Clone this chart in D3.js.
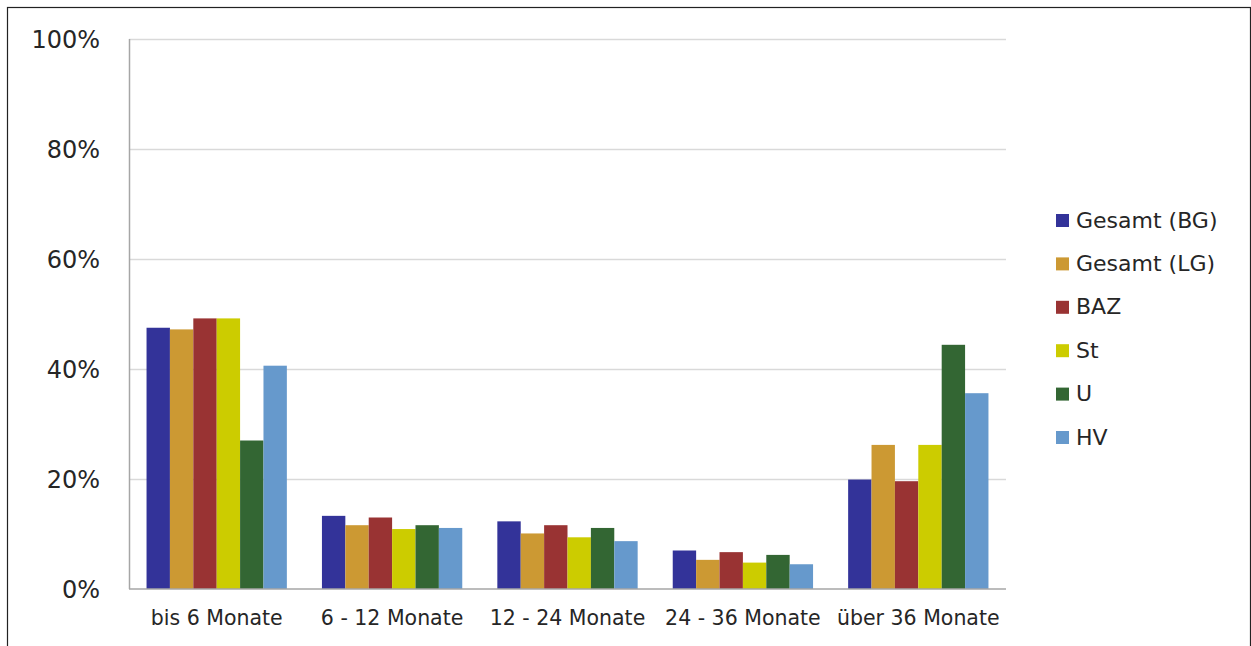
<!DOCTYPE html>
<html>
<head>
<meta charset="utf-8">
<script src="https://cdn.jsdelivr.net/npm/d3@7"></script>
<style>
  body { margin: 0; background: #fff; }
  text { font-family: "DejaVu Sans", Verdana, sans-serif; fill: #262626; }
</style>
</head>
<body>
<div id="chart"></div>
<script>
// categories and series
const categories = ["bis 6 Monate", "6 - 12 Monate", "12 - 24 Monate", "24 - 36 Monate", "über 36 Monate"];
const seriesNames = ["Gesamt (BG)", "Gesamt (LG)", "BAZ", "St", "U", "HV"];
const seriesColors = ["#333399", "#cc9933", "#993333", "#cccc00", "#336633", "#6699cc"];

// values in percent, one array per series
const gesamtBG = [47.5, 13.3, 12.3, 7.0, 19.9];
const gesamtLG = [47.2, 11.6, 10.1, 5.3, 26.2];
const baz      = [49.2, 13.0, 11.6, 6.7, 19.6];
const st       = [49.2, 10.9, 9.4, 4.8, 26.2];
const u        = [27.0, 11.6, 11.1, 6.2, 44.4];
const hv       = [40.6, 11.1, 8.7, 4.5, 35.6];
const seriesValues = [gesamtBG, gesamtLG, baz, st, u, hv];

const yTicks = [0, 20, 40, 60, 80, 100];

const width = 1251, height = 646;
const margin = { left: 129, right: 245, top: 39, bottom: 57 };

const svg = d3.select("#chart")
  .append("svg")
  .attr("width", width)
  .attr("height", height);

// outer frame
svg.append("rect")
  .attr("x", 7.5).attr("y", 7.5)
  .attr("width", 1243).attr("height", 700)
  .attr("fill", "none")
  .attr("stroke", "#222")
  .attr("stroke-width", 1.2);

const x0 = d3.scaleBand()
  .domain(categories)
  .range([margin.left, width - margin.right]);

// 6 bars plus a 150% gap inside each band
const x1 = d3.scaleBand()
  .domain(seriesNames)
  .range([0, x0.bandwidth()])
  .paddingOuter(0.75)
  .paddingInner(0);

const y = d3.scaleLinear()
  .domain([0, 100])
  .range([height - margin.bottom, margin.top]);

// grid lines
svg.append("g")
  .selectAll("line")
  .data(yTicks.filter(d => d > 0))
  .join("line")
  .attr("x1", margin.left)
  .attr("x2", width - margin.right)
  .attr("y1", d => Math.round(y(d)) + 0.5)
  .attr("y2", d => Math.round(y(d)) + 0.5)
  .attr("stroke", "#d9d9d9")
  .attr("stroke-width", 1.5);

// y tick labels
svg.append("g")
  .selectAll("text")
  .data(yTicks)
  .join("text")
  .attr("x", 100)
  .attr("y", d => y(d))
  .attr("dy", "0.36em")
  .attr("text-anchor", "end")
  .attr("font-size", 24)
  .text(d => d + "%");

// bars
const groups = svg.append("g")
  .selectAll("g")
  .data(seriesNames)
  .join("g")
  .attr("fill", (d, i) => seriesColors[i]);

groups.selectAll("rect")
  .data((s, si) => categories.map((c, ci) => ({ cat: c, series: s, value: seriesValues[si][ci] })))
  .join("rect")
  .attr("x", d => x0(d.cat) + x1(d.series))
  .attr("width", x1.bandwidth())
  .attr("y", d => y(d.value))
  .attr("height", d => y(0) - y(d.value));

// axes lines
svg.append("line")
  .attr("x1", margin.left + 0.5).attr("x2", margin.left + 0.5)
  .attr("y1", margin.top).attr("y2", y(0))
  .attr("stroke", "#a6a6a6").attr("stroke-width", 1.5);

svg.append("line")
  .attr("x1", margin.left).attr("x2", width - margin.right)
  .attr("y1", y(0)).attr("y2", y(0))
  .attr("stroke", "#a6a6a6").attr("stroke-width", 1.5);

// category labels
svg.append("g")
  .selectAll("text")
  .data(categories)
  .join("text")
  .attr("x", d => x0(d) + x0.bandwidth() / 2)
  .attr("y", 625)
  .attr("text-anchor", "middle")
  .attr("font-size", 20.5)
  .text(d => d);

// legend
const legend = svg.append("g")
  .selectAll("g")
  .data(seriesNames)
  .join("g")
  .attr("transform", (d, i) => `translate(1056, ${220 + i * 43.4})`);

legend.append("rect")
  .attr("x", 0).attr("y", -6)
  .attr("width", 13).attr("height", 13)
  .attr("fill", (d, i) => seriesColors[i]);

legend.append("text")
  .attr("x", 20)
  .attr("y", 7.5)
  .attr("font-size", 22)
  .text(d => d);
</script>
</body>
</html>
